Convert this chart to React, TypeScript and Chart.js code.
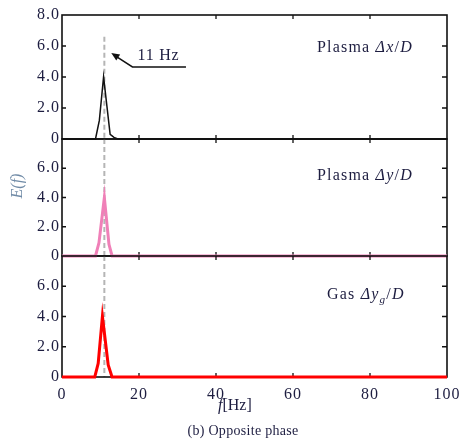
import { useEffect, useRef } from 'react';
import { Chart, registerables } from 'chart.js';
Chart.register(...registerables);

const W = 474;
const H = 444;

// Frequencies [Hz] and spectra E(f)
const plasmaXFreq = [0, 8.7, 9.7, 10.8, 12.5, 13.5, 14.5, 100];
const plasmaXVals = [0, 0, 1.2, 4.0, 0.3, 0.1, 0, 0];
const plasmaYFreq = [0, 8.7, 9.6, 11.0, 12.2, 13.0, 100];
const plasmaYVals = [0, 0, 0.9, 4.0, 0.8, 0, 0];
const gasYFreq = [0, 8.5, 9.4, 10.5, 12.0, 13.0, 100];
const gasYVals = [0, 0, 0.9, 4.0, 0.8, 0, 0];

const xTicks = [0, 20, 40, 60, 80, 100];
const yTicks = [0, 2, 4, 6, 8];
const peakFreq = 11;

const SERIF = '"Liberation Serif", "DejaVu Serif", serif';
const TEXT = '#1d1d40';
const FS = 16;

type Seg = { t: string; italic?: boolean; sub?: boolean };

function drawRich(ctx: CanvasRenderingContext2D, x: number, y: number, segs: Seg[], size: number, spacing = 1) {
  let cx = x;
  ctx.save();
  (ctx as any).letterSpacing = `${spacing}px`;
  ctx.fillStyle = TEXT;
  ctx.textBaseline = 'middle';
  ctx.textAlign = 'left';
  for (const s of segs) {
    const fs = s.sub ? size * 0.7 : size;
    ctx.font = `${s.italic ? 'italic ' : ''}${fs}px ${SERIF}`;
    ctx.fillText(s.t, cx, s.sub ? y + 5 : y);
    cx += ctx.measureText(s.t).width;
  }
  ctx.restore();
}

interface PanelCfg {
  freq: number[];
  vals: number[];
  color: string;
  width: number;
  top: number;
  bottom: number;
  showX: boolean;
  showTop8: boolean;
  label: Seg[];
  labelX: number;
  labelY: number;
  dashFrom?: number;
  extra?: (chart: any) => void;
}

function makeChart(canvas: HTMLCanvasElement, p: PanelCfg) {
  const framePlugin = {
    id: 'frame',
    beforeDraw(chart: any) {
      (chart.ctx as any).letterSpacing = '1px';
    },
    beforeDatasetsDraw(chart: any) {
      const { ctx, chartArea: a, scales } = chart;
      const xs = scales.x;
      const ys = scales.y;
      ctx.save();
      // dashed line at peak frequency
      const px = xs.getPixelForValue(peakFreq);
      const yTop = p.dashFrom !== undefined ? ys.getPixelForValue(p.dashFrom) : a.top;
      ctx.strokeStyle = '#b5b5b5';
      ctx.lineWidth = 2;
      ctx.setLineDash([5, 3]);
      ctx.beginPath();
      ctx.moveTo(px, yTop);
      ctx.lineTo(px, a.bottom);
      ctx.stroke();
      ctx.setLineDash([]);
      // frame
      ctx.strokeStyle = '#111';
      ctx.lineWidth = 1.6;
      ctx.strokeRect(a.left, a.top, a.right - a.left, a.bottom - a.top);
      // inward ticks
      ctx.lineWidth = 1.3;
      ctx.beginPath();
      for (const v of yTicks) {
        if (v === 0 || v === 8) continue;
        const py = ys.getPixelForValue(v);
        ctx.moveTo(a.left, py);
        ctx.lineTo(a.left + 4, py);
        ctx.moveTo(a.right, py);
        ctx.lineTo(a.right - 5, py);
      }
      for (const v of xTicks) {
        if (v === 0 || v === 100) continue;
        const qx = xs.getPixelForValue(v);
        ctx.moveTo(qx, a.top);
        ctx.lineTo(qx, a.top + 4);
        ctx.moveTo(qx, a.bottom);
        ctx.lineTo(qx, a.bottom - 4);
      }
      ctx.stroke();
      ctx.restore();
    },
    afterDraw(chart: any) {
      const { ctx } = chart;
      drawRich(ctx, p.labelX, p.labelY, p.label, FS, 1.2);
      if (p.extra) p.extra(chart);
    },
  };

  return new Chart(canvas, {
    type: 'line',
    data: {
      datasets: [
        {
          data: p.freq.map((f, i) => ({ x: f, y: p.vals[i] })),
          borderColor: p.color,
          borderWidth: p.width,
          pointRadius: 0,
          tension: 0,
          fill: false,
          clip: 6,
        } as any,
      ],
    },
    options: {
      animation: false,
      responsive: false,
      events: [],
      layout: {
        padding: {
          left: 0,
          right: W - 447,
          top: p.top,
          bottom: p.showX ? H - p.bottom - 30 : H - p.bottom,
        },
      },
      plugins: { legend: { display: false }, tooltip: { enabled: false } },
      scales: {
        x: {
          type: 'linear',
          min: 0,
          max: 100,
          display: p.showX,
          afterFit: (s: any) => {
            s.height = p.showX ? 30 : 0;
          },
          grid: { display: false, drawTicks: false },
          border: { display: false },
          ticks: {
            stepSize: 20,
            padding: 8,
            color: TEXT,
            font: { family: SERIF, size: FS },
          },
        },
        y: {
          type: 'linear',
          min: 0,
          max: 8,
          afterFit: (s: any) => {
            s.width = 62;
          },
          grid: { display: false, drawTicks: false },
          border: { display: false },
          ticks: {
            stepSize: 2,
            padding: 2,
            color: TEXT,
            font: { family: SERIF, size: FS },
            callback: (v: any) => {
              const n = Number(v);
              if (n === 8 && !p.showTop8) return '';
              return n === 0 ? '0' : n.toFixed(1);
            },
          },
        },
      },
    },
    plugins: [framePlugin],
  });
}

export default function App() {
  const c1 = useRef<HTMLCanvasElement>(null);
  const c2 = useRef<HTMLCanvasElement>(null);
  const c3 = useRef<HTMLCanvasElement>(null);

  useEffect(() => {
    const charts: Chart[] = [];
    charts.push(
      makeChart(c1.current!, {
        freq: plasmaXFreq,
        vals: plasmaXVals,
        color: '#111111',
        width: 1.5,
        top: 15,
        bottom: 139,
        showX: false,
        showTop8: true,
        label: [{ t: 'Plasma ' }, { t: 'Δx', italic: true }, { t: '/' }, { t: 'D', italic: true }],
        labelX: 317,
        labelY: 48,
        dashFrom: 6.6,
        extra: (chart: any) => {
          const { ctx, scales } = chart;
          const xs = scales.x;
          const ys = scales.y;
          drawRich(ctx, xs.getPixelForValue(19.6), ys.getPixelForValue(5.35), [{ t: '11 Hz' }], FS, 0.8);
          // underline + arrow
          const ux0 = xs.getPixelForValue(18.3);
          const ux1 = xs.getPixelForValue(32.2);
          const uy = ys.getPixelForValue(4.65);
          const tx = xs.getPixelForValue(12.8);
          const ty = ys.getPixelForValue(5.55);
          ctx.save();
          ctx.strokeStyle = '#111';
          ctx.lineWidth = 1.5;
          ctx.beginPath();
          ctx.moveTo(ux1, uy);
          ctx.lineTo(ux0, uy);
          ctx.lineTo(tx + 4, ty + 3);
          ctx.stroke();
          const ang = Math.atan2(ty - uy, tx - ux0);
          ctx.fillStyle = '#111';
          ctx.beginPath();
          ctx.moveTo(tx, ty);
          ctx.lineTo(tx - 9 * Math.cos(ang - 0.4), ty - 9 * Math.sin(ang - 0.4));
          ctx.lineTo(tx - 9 * Math.cos(ang + 0.4), ty - 9 * Math.sin(ang + 0.4));
          ctx.closePath();
          ctx.fill();
          ctx.restore();
        },
      })
    );
    charts.push(
      makeChart(c2.current!, {
        freq: plasmaYFreq,
        vals: plasmaYVals,
        color: '#f080b8',
        width: 3,
        top: 139,
        bottom: 256,
        showX: false,
        showTop8: false,
        label: [{ t: 'Plasma ' }, { t: 'Δy', italic: true }, { t: '/' }, { t: 'D', italic: true }],
        labelX: 317,
        labelY: 176,
        extra: (chart: any) => {
          const { ctx } = chart;
          ctx.save();
          ctx.translate(18, 186);
          ctx.rotate(-Math.PI / 2);
          (ctx as any).letterSpacing = '0px';
          ctx.fillStyle = '#6f8aa6';
          ctx.textBaseline = 'middle';
          ctx.textAlign = 'center';
          ctx.font = `italic ${FS}px ${SERIF}`;
          ctx.fillText('E(f)', 0, 0);
          ctx.restore();
        },
      })
    );
    charts.push(
      makeChart(c3.current!, {
        freq: gasYFreq,
        vals: gasYVals,
        color: '#ff0000',
        width: 3,
        top: 256,
        bottom: 377,
        showX: true,
        showTop8: false,
        label: [
          { t: 'Gas ' },
          { t: 'Δy', italic: true },
          { t: 'g', italic: true, sub: true },
          { t: '/' },
          { t: 'D', italic: true },
        ],
        labelX: 327,
        labelY: 295,
        extra: (chart: any) => {
          const { ctx } = chart;
          drawRich(ctx, 218, 406, [{ t: 'f', italic: true }, { t: '[Hz]' }], FS, 0);
          ctx.save();
          (ctx as any).letterSpacing = '0.3px';
          ctx.fillStyle = TEXT;
          ctx.font = `14px ${SERIF}`;
          ctx.textAlign = 'center';
          ctx.textBaseline = 'middle';
          ctx.fillText('(b) Opposite phase', 243, 431);
          ctx.restore();
        },
      })
    );
    return () => charts.forEach((c) => c.destroy());
  }, []);

  const cs: React.CSSProperties = { position: 'absolute', left: 0, top: 0, width: W, height: H };
  return (
    <div style={{ position: 'absolute', left: 0, top: 0, width: W, height: H, background: '#fff' }}>
      <canvas ref={c1} width={W} height={H} style={cs} />
      <canvas ref={c2} width={W} height={H} style={cs} />
      <canvas ref={c3} width={W} height={H} style={cs} />
    </div>
  );
}
